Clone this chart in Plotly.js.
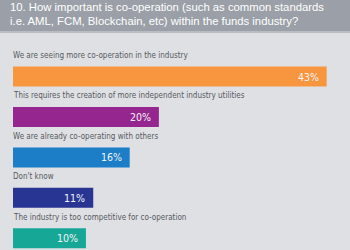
<!DOCTYPE html>
<html>
<head>
<meta charset="utf-8">
<script src="https://cdn.plot.ly/plotly-3.0.1.min.js"></script>
<style>
  html, body { margin: 0; padding: 0; background: #dfe0e4; }
  #chart { width: 350px; height: 250px; }
</style>
</head>
<body>
<div id="chart"></div>
<script>
// Survey answers, in the order they are listed
const answers = [
  "We are seeing more co-operation in the industry",
  "This requires the creation of more independent industry utilities",
  "We are already co-operating with others",
  "Don't know",
  "The industry is too competitive for co-operation"
];
const shares = [43, 20, 16, 11, 10];
const barColors = ["#f8953f", "#96268f", "#1b7ec7", "#283593", "#17a797"];
const questionTitle = "10. How important is co-operation (such as common standards<br>i.e. AML, FCM, Blockchain, etc) within the funds industry?";

const labelFont = "'DejaVu Sans Condensed', 'Liberation Sans Narrow', sans-serif";

const bars = {
  type: "bar",
  orientation: "h",
  y: answers,
  x: shares,
  marker: { color: barColors, line: { width: 0 } },
  hoverinfo: "none"
};

// Answer text sits above each bar, share value at the inner right end
const answerNotes = answers.map(a => ({
  xref: "x", yref: "y", x: 0, y: a,
  text: a, showarrow: false,
  xanchor: "left", yanchor: "middle", yshift: 21, xshift: -2,
  font: { family: labelFont, size: 8, color: "#555a60" }
}));
const valueNotes = answers.map((a, i) => ({
  xref: "x", yref: "y", x: shares[i], y: a,
  text: shares[i] + "%", showarrow: false,
  xanchor: "right", yanchor: "middle", xshift: -6,
  font: { family: labelFont, size: 10.5, color: "#f4f4f6" }
}));

const layout = {
  width: 350, height: 250,
  margin: { l: 13, r: 0, t: 33, b: 0 },
  paper_bgcolor: "#dfe0e4",
  plot_bgcolor: "#dfe0e4",
  showlegend: false,
  bargap: 0.505,
  title: {
    text: questionTitle,
    xref: "container", yref: "container",
    x: 10 / 350, xanchor: "left",
    y: 1 - 10.5 / 250, yanchor: "middle",
    font: { family: "'Liberation Sans', sans-serif", size: 11.3, color: "#ffffff" }
  },
  xaxis: { range: [0, 46.2], visible: false, fixedrange: true },
  yaxis: {
    type: "category", categoryorder: "array", categoryarray: answers,
    range: [4.29, -1.077], visible: false, fixedrange: true
  },
  shapes: [
    { type: "rect", xref: "paper", yref: "paper", x0: -0.1, x1: 1.1,
      y0: 1 + 2 / 217, y1: 1 + 33 / 217, fillcolor: "#9b9fa7", line: { width: 0 }, layer: "below" },
    { type: "rect", xref: "paper", yref: "paper", x0: -0.1, x1: 1.1,
      y0: 1, y1: 1 + 2 / 217, fillcolor: "#b9bcc2", line: { width: 0 }, layer: "below" }
  ],
  annotations: answerNotes.concat(valueNotes)
};

Plotly.newPlot("chart", [bars], layout, { staticPlot: true, displayModeBar: false });
</script>
</body>
</html>
